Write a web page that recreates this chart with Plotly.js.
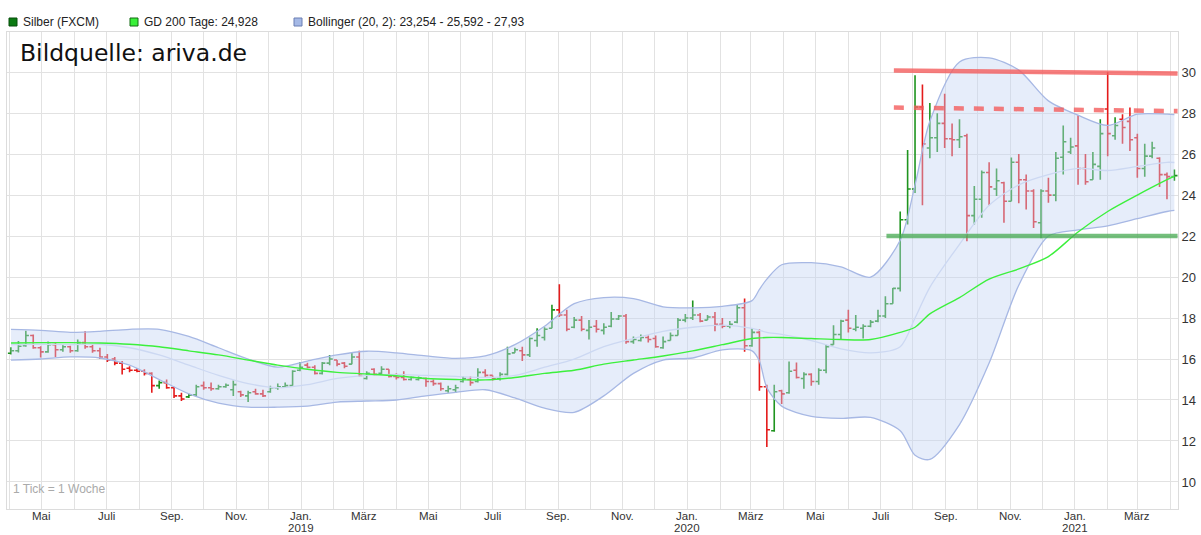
<!DOCTYPE html>
<html><head><meta charset="utf-8">
<script src="https://cdn.plot.ly/plotly-3.0.1.min.js"></script>
<style>html,body{margin:0;padding:0;background:#fff;}#chart{width:1201px;height:535px;}</style>
</head><body><div id="chart"></div>
<script>
// weekly bars (1 Tick = 1 Woche), first week starting 2018-04-02
const firstWeek = '2018-04-02';
const weekCount = 158;

const openV = [16.28,16.40,16.65,17.15,16.55,16.35,16.70,16.45,16.60,16.40,
16.80,16.60,16.40,16.10,16.00,15.80,15.55,15.45,15.40,15.30,
14.70,14.85,14.60,14.20,14.15,14.25,14.70,14.60,14.55,14.65,
14.50,14.40,14.20,14.40,14.30,14.40,14.60,14.65,14.70,15.45,
15.70,15.60,15.30,15.80,15.95,15.80,15.75,16.10,15.05,15.50,
15.30,15.50,15.15,15.10,15.00,15.00,15.05,14.90,14.80,14.45,
14.50,14.90,15.00,14.90,15.35,15.20,15.05,15.25,16.30,16.40,
16.20,16.90,17.05,17.50,18.40,18.15,17.55,17.90,17.40,17.60,
17.40,17.60,17.95,18.10,16.85,16.90,17.05,17.00,16.55,16.90,
17.15,17.90,18.00,18.15,17.90,18.05,17.70,17.60,17.80,18.50,
16.65,17.30,14.65,12.50,14.45,14.35,15.45,15.05,15.25,14.90,
15.45,16.70,17.20,17.90,17.45,17.50,17.60,17.85,18.10,18.70,
19.45,22.80,24.30,28.30,26.30,26.80,27.50,26.75,26.70,26.90,
23.00,23.80,25.10,24.30,24.60,23.70,25.60,24.75,24.20,22.65,
24.20,24.00,25.85,26.10,26.40,25.30,24.75,25.40,28.20,26.90,
27.70,27.60,26.80,25.30,25.90,25.80,25.00,24.90];
const highV = [16.58,16.88,17.38,17.20,16.62,16.85,16.78,16.70,16.65,16.95,
17.35,16.70,16.55,16.25,16.10,15.90,15.65,15.55,15.50,15.35,
14.95,15.00,14.65,14.35,14.30,14.75,14.90,14.85,14.75,14.80,
14.95,14.45,14.45,14.55,14.50,14.70,14.80,14.85,15.45,15.85,
15.82,15.70,15.85,16.20,15.95,15.85,16.30,16.40,15.40,15.55,
15.65,15.50,15.30,15.40,15.15,15.15,15.10,15.00,14.85,14.70,
14.75,15.15,15.15,15.55,15.50,15.20,15.35,16.60,16.55,16.60,
17.05,17.50,17.55,18.65,19.65,18.40,18.05,18.10,17.90,17.90,
17.75,18.30,18.15,18.20,17.10,17.20,17.15,17.15,17.10,17.30,
18.00,18.20,18.85,18.25,18.15,18.30,18.00,17.85,18.65,18.95,
17.50,17.45,14.74,14.74,14.50,15.88,15.83,15.35,15.30,15.55,
16.70,17.65,17.92,18.40,18.15,17.70,17.90,18.40,19.06,19.47,
23.20,26.20,29.85,29.40,28.50,28.00,28.95,27.50,27.70,27.00,
24.45,25.20,25.60,25.30,24.65,25.83,26.00,25.00,24.28,24.28,
24.85,26.10,27.40,26.80,27.90,26.00,26.10,27.70,30.00,27.80,
27.95,28.27,27.00,26.50,26.60,25.85,25.10,25.25];
const lowV = [16.22,16.32,16.60,16.50,16.08,16.30,16.10,16.35,16.30,16.35,
16.50,16.30,16.00,15.85,15.70,15.25,15.35,15.35,15.20,14.35,
14.55,14.55,14.10,13.95,14.10,14.20,14.50,14.45,14.50,14.60,
14.20,14.15,13.90,14.25,14.15,14.35,14.50,14.60,14.70,15.40,
15.55,15.25,15.25,15.70,15.65,15.55,15.75,15.15,15.00,15.20,
15.25,15.10,15.00,14.95,14.95,14.95,14.65,14.70,14.45,14.35,
14.35,14.85,14.70,14.85,15.10,14.95,14.95,15.20,16.30,15.90,
16.10,16.60,16.90,17.50,18.05,17.35,17.50,17.35,16.95,17.30,
17.20,17.55,17.90,16.75,16.75,16.85,16.80,16.55,16.50,16.90,
17.15,17.80,17.90,17.80,17.90,17.35,17.50,17.50,17.75,16.35,
16.60,14.45,11.70,12.45,13.80,14.30,15.05,14.55,14.70,14.74,
15.30,16.70,16.95,17.30,17.35,17.00,17.55,17.80,18.00,18.70,
19.30,22.57,24.10,23.50,25.80,26.10,26.30,25.90,26.30,21.75,
22.57,22.90,23.50,23.95,22.65,23.70,23.60,23.30,22.40,21.90,
23.63,23.70,25.00,26.00,24.50,24.50,24.75,24.75,25.90,26.70,
26.50,26.15,24.85,24.90,25.80,24.40,23.80,24.70];
const closeV = [16.40,16.62,17.15,16.55,16.35,16.70,16.45,16.60,16.40,16.80,
16.60,16.40,16.10,15.95,15.80,15.50,15.45,15.40,15.30,14.70,
14.85,14.60,14.20,14.05,14.25,14.65,14.60,14.55,14.65,14.72,
14.75,14.25,14.35,14.30,14.20,14.60,14.65,14.70,15.40,15.60,
15.60,15.30,15.80,16.00,15.75,15.65,16.10,15.20,15.30,15.25,
15.50,15.15,15.10,15.00,15.10,15.08,14.90,14.80,14.55,14.55,
14.60,15.05,14.85,15.35,15.20,15.05,15.25,16.25,16.45,16.20,
17.00,17.15,17.45,18.40,18.15,17.45,17.90,17.45,17.55,17.45,
17.55,17.95,18.10,16.85,16.95,17.05,16.95,16.60,16.85,17.15,
17.90,18.00,18.15,17.85,18.05,17.70,17.60,17.70,18.50,16.65,
17.30,14.65,12.55,14.40,14.30,15.40,15.10,15.25,14.90,15.45,
16.60,17.20,17.85,17.50,17.55,17.60,17.80,18.10,18.70,19.45,
22.80,24.30,28.30,26.50,26.80,27.50,26.75,26.70,26.85,23.00,
23.80,25.10,24.40,24.70,23.70,25.60,24.75,24.20,22.70,24.20,
24.00,25.80,26.60,26.35,25.30,24.65,25.50,27.00,27.00,27.40,
27.30,26.70,25.30,25.90,26.30,25.00,24.90,24.95];

// indicator lines
const indDates = ['2018-04-02','2018-04-30','2018-05-28','2018-06-25','2018-07-23','2018-08-20','2018-09-17','2018-10-15','2018-11-12','2018-12-10',
'2019-01-07','2019-02-04','2019-03-04','2019-04-01','2019-04-29','2019-05-27','2019-06-24','2019-07-22','2019-08-19','2019-09-16',
'2019-10-14','2019-11-11','2019-12-09','2020-01-06','2020-02-03','2020-03-02','2020-03-09','2020-03-16','2020-03-30','2020-04-27','2020-05-25','2020-06-22',
'2020-07-20','2020-08-03','2020-08-17','2020-09-14','2020-10-12','2020-11-09','2020-12-07','2021-01-04','2021-02-01','2021-03-01','2021-03-29','2021-04-05'];
const bollUpper = [17.45,17.40,17.30,17.35,17.45,17.45,17.10,16.55,16.00,15.60,
15.90,16.20,16.38,16.30,16.15,16.03,16.15,16.70,17.60,18.70,
19.00,18.95,18.55,18.50,18.57,18.85,19.40,19.90,20.60,20.70,20.50,20.00,
21.80,24.50,27.60,30.50,30.70,30.10,28.60,27.90,27.40,27.95,27.95,27.93];
const bollMid = [16.70,16.72,16.70,16.72,16.55,16.20,15.70,15.20,14.80,14.60,
14.75,15.05,15.20,15.25,15.20,15.15,15.10,15.20,15.60,16.00,
16.60,17.00,17.35,17.55,17.65,17.50,17.40,17.30,17.20,16.90,16.50,16.30,
16.60,18.00,19.50,21.60,23.50,24.50,25.00,25.30,25.20,25.40,25.60,25.592];
const bollLower = [15.95,16.00,16.10,16.05,15.70,15.00,14.30,13.85,13.65,13.65,
13.70,13.90,13.95,14.00,14.20,14.37,14.50,14.10,13.60,13.40,
14.20,15.30,15.95,16.05,16.45,16.40,15.90,14.60,13.70,13.20,13.10,13.15,
12.50,11.30,11.10,12.80,15.80,19.60,22.00,22.30,22.50,22.85,23.20,23.254];
const gd200 = [16.78,16.80,16.80,16.78,16.72,16.60,16.40,16.20,15.95,15.70,
15.50,15.35,15.27,15.18,15.05,15.00,14.98,15.10,15.30,15.45,
15.75,15.95,16.15,16.40,16.70,17.00,17.03,17.05,17.05,17.00,16.95,16.95,
17.30,17.55,18.20,19.00,19.90,20.40,21.00,22.20,23.20,24.00,24.75,24.928];

const monthTicks = ['2018-04-01','2018-05-01','2018-06-01','2018-07-01','2018-08-01','2018-09-01','2018-10-01','2018-11-01','2018-12-01',
'2019-01-01','2019-02-01','2019-03-01','2019-04-01','2019-05-01','2019-06-01','2019-07-01','2019-08-01','2019-09-01','2019-10-01','2019-11-01','2019-12-01',
'2020-01-01','2020-02-01','2020-03-01','2020-04-01','2020-05-01','2020-06-01','2020-07-01','2020-08-01','2020-09-01','2020-10-01','2020-11-01','2020-12-01',
'2021-01-01','2021-02-01','2021-03-01','2021-04-01'];
const monthLabels = ['','Mai','','Juli','','Sep.','','Nov.','',
'Jan.','','März','','Mai','','Juli','','Sep.','','Nov.','',
'Jan.','','März','','Mai','','Juli','','Sep.','','Nov.','',
'Jan.','','März',''];
const yearTicks = ['2019-01-01','2020-01-01','2021-01-01'];
const yearLabels = ['2019','2020','2021'];
const yTicks = [10,12,14,16,18,20,22,24,26,28,30];

const legendTexts = ['Silber (FXCM)','GD 200 Tage: 24,928','Bollinger (20, 2): 23,254 - 25,592 - 27,93'];

// trend lines drawn by hand on the original chart
const resistTop = {x0:'2020-07-14', y0:30.08, x1:'2021-04-08', y1:29.93};
const resistDash = {x0:'2020-07-14', y0:28.27, x1:'2021-04-08', y1:28.10};
const support = {x0:'2020-07-07', y0:22.0, x1:'2021-04-08', y1:22.0};

const weekDates = [];
{ const t0 = Date.parse(firstWeek + 'T00:00:00Z');
  for (let i = 0; i < weekCount; i++) weekDates.push(new Date(t0 + i*7*86400000).toISOString().slice(0,10)); }

const W = 1201, H = 535, L = 7, R = 23, T = 32, B = 26;
const pw = W - L - R, ph = H - T - B;
const px2x = p => (p - L) / pw;
const px2y = p => (H - B - p) / ph;

const traces = [
  {type:'scatter', mode:'lines', x:indDates, y:bollLower, line:{color:'#a7b8e4', width:1.3, shape:'spline', smoothing:0.8}, hoverinfo:'skip', showlegend:false},
  {type:'scatter', mode:'lines', x:indDates, y:bollUpper, fill:'tonexty', fillcolor:'rgba(196,212,244,0.42)', line:{color:'#a7b8e4', width:1.3, shape:'spline', smoothing:0.8}, hoverinfo:'skip', showlegend:false},
  {type:'scatter', mode:'lines', x:indDates, y:bollMid, line:{color:'#ccd8f2', width:1.3, shape:'spline', smoothing:0.8}, hoverinfo:'skip', showlegend:false},
  {type:'scatter', mode:'lines', x:indDates, y:gd200, line:{color:'#3cf03c', width:1.4, shape:'spline', smoothing:0.8}, hoverinfo:'skip', showlegend:false},
  {type:'ohlc', x:weekDates, open:openV, high:highV, low:lowV, close:closeV, tickwidth:0.42,
   increasing:{line:{color:'#1f941f', width:1.6}}, decreasing:{line:{color:'#e41b1b', width:1.6}}, showlegend:false}
];

const shapes = [
  {type:'line', xref:'x', yref:'y', x0:resistTop.x0, y0:resistTop.y0, x1:resistTop.x1, y1:resistTop.y1, line:{color:'rgba(244,92,92,0.8)', width:4.5}},
  {type:'line', xref:'x', yref:'y', x0:resistDash.x0, y0:resistDash.y0, x1:resistDash.x1, y1:resistDash.y1, line:{color:'rgba(244,92,92,0.8)', width:4.5, dash:'10px,10px'}},
  {type:'line', xref:'x', yref:'y', x0:support.x0, y0:support.y0, x1:support.x1, y1:support.y1, line:{color:'rgba(70,170,80,0.75)', width:4.5}}
];
const sqColors = [['#0b7a12','#064d0a'],['#39f039','#156b15'],['#a5b9e6','#6b7fb3']];
const sqX = [9, 130, 294];
const txX = [21, 142, 306];
const legY = 22;
sqColors.forEach((c,i) => {
  shapes.push({type:'rect', xref:'paper', yref:'paper', x0:px2x(sqX[i]), x1:px2x(sqX[i]+8), y0:px2y(legY+4), y1:px2y(legY-4), fillcolor:c[0], line:{color:c[1], width:1}});
});
const axFont = {family:'Liberation Sans, Arial, sans-serif', size:11.5, color:'#333'};
const annotations = legendTexts.map((t,i) => ({xref:'paper', yref:'paper', x:px2x(txX[i]), y:px2y(legY), xanchor:'left', yanchor:'middle', text:t, showarrow:false, font:{family:'Liberation Sans, Arial, sans-serif', size:12, color:'#222'}}));
annotations.push({xref:'paper', yref:'paper', x:px2x(18), y:px2y(53), xanchor:'left', yanchor:'middle', text:'Bildquelle: ariva.de', showarrow:false, font:{family:'DejaVu Sans, sans-serif', size:23.5, color:'#111'}});
annotations.push({xref:'paper', yref:'paper', x:px2x(11), y:px2y(489), xanchor:'left', yanchor:'middle', text:'1 Tick = 1 Woche', showarrow:false, font:{family:'Liberation Sans, Arial, sans-serif', size:12, color:'#aaaaaa'}});
monthTicks.forEach((d,i) => { if (monthLabels[i]) annotations.push({xref:'x', yref:'paper', x:d, y:px2y(515.5), xanchor:'center', yanchor:'middle', text:monthLabels[i], showarrow:false, font:axFont}); });
yearTicks.forEach((d,i) => annotations.push({xref:'x', yref:'paper', x:d, y:px2y(528.3), xanchor:'center', yanchor:'middle', text:yearLabels[i], showarrow:false, font:axFont}));

const layout = {
  width:W, height:H, margin:{l:L, r:R, t:T, b:B},
  paper_bgcolor:'#ffffff', plot_bgcolor:'#ffffff', showlegend:false,
  font:{family:'Liberation Sans, Arial, sans-serif', size:12, color:'#333'},
  xaxis:{type:'date', range:['2018-03-29 05:00','2021-04-08 10:00'], tickmode:'array', tickvals:monthTicks, showticklabels:false,
    showgrid:true, gridcolor:'#e2e2e2', gridwidth:1, ticks:'', showline:true, linecolor:'#dcdcdc', mirror:true, zeroline:false,
    rangeslider:{visible:false}, fixedrange:true},
  yaxis:{side:'right', range:[8.68,31.96], tickmode:'array', tickvals:yTicks, ticktext:yTicks.map(String),
    showgrid:true, gridcolor:'#e2e2e2', gridwidth:1, ticks:'', showline:true, linecolor:'#dcdcdc', mirror:true, zeroline:false,
    tickfont:{size:13, color:'#333'}, fixedrange:true},
  shapes:shapes, annotations:annotations
};
Plotly.newPlot('chart', traces, layout, {staticPlot:true, displayModeBar:false});
</script>
</body></html>
